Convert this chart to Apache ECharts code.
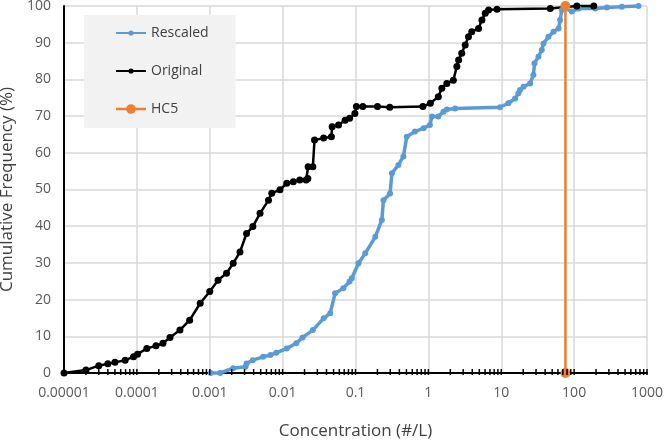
<!DOCTYPE html>
<html><head><meta charset="utf-8">
<script src="https://cdn.jsdelivr.net/npm/echarts@6/dist/echarts.min.js"></script>
<style>html,body{margin:0;padding:0;background:#fff}#c{width:664px;height:443px}</style>
</head><body><div id="c"></div>
<script>
// ---- data ----
const originalX = [0.00001,0.00002,0.00003,0.00004,0.00005,0.000069,0.00009,0.000102,0.000137,0.000183,0.000228,0.000285,0.00039,0.00053,0.00074,0.001,0.0013,0.0017,0.0021,0.0026,0.0032,0.0039,0.0049,0.0064,0.0071,0.0092,0.0114,0.014,0.0172,0.021,0.0222,0.0224,0.026,0.0274,0.0365,0.0467,0.0478,0.0585,0.072,0.083,0.098,0.103,0.126,0.2,0.295,0.84,1.065,1.37,1.53,1.79,2.2,2.46,2.6,2.87,3.2,3.55,3.94,4.88,5.43,6.03,6.7,8.75,47,109,186];
const originalY = [0,0.8,2,2.5,2.9,3.5,4.4,5.1,6.7,7.4,8.1,9.7,11.7,14.4,19,22.2,25.3,27.2,29.9,33,38,39.9,43.5,47.1,49,49.9,51.7,52.1,52.6,52.6,53,56.2,56.2,63.5,64,64.4,67.1,67.6,68.9,69.4,70.7,72.6,72.6,72.6,72.4,72.6,73.5,75.3,77.6,78.9,79.8,83.5,85.3,87.1,89.4,91.6,93,93.9,96.2,98,98.9,99.1,99.3,100,100];
const rescaledX = [0.00103,0.00139,0.0021,0.0031,0.0032,0.0039,0.0054,0.0068,0.0082,0.0114,0.0154,0.0188,0.026,0.0366,0.045,0.0525,0.068,0.083,0.089,0.11,0.136,0.187,0.23,0.242,0.298,0.316,0.388,0.454,0.505,0.655,0.86,1.05,1.12,1.37,1.61,1.79,2.33,9.6,12.5,15.5,17.2,18.1,20.2,24.9,27.6,28.6,32.4,36,38,44.5,52.2,61.2,64.2,67.8,75.5,93,115,195,282,452,765];
const rescaledY = [0,0,1.3,1.7,2.6,3.5,4.4,4.9,5.5,6.7,8.1,9.7,11.7,14.9,16.3,21.7,23.1,24.9,25.8,29.9,32.6,37.1,41.7,47.1,48.9,54.4,56.7,59,64.4,65.8,66.7,67.6,69.9,69.9,71.2,71.8,72.1,72.4,73.5,74.8,76.2,77.1,78,78.9,81.2,84.4,86.2,88,89.8,91.6,93,93.9,96.2,98.9,99.3,98.5,99.3,99.3,99.6,99.8,100];
const hc5X = [76, 76];
const hc5Y = [0, 100];
const seriesNames = ['Rescaled', 'Original', 'HC5'];
const xTickLabels = ['0.00001','0.0001','0.001','0.01','0.1','1','10','100','1000'];
const xMin = 0.00001, xMax = 1000;
const yMin = 0, yMax = 100, yStep = 10;

// axis tick positions (1..9 x 10^k)
const tickValues = [];
for (let k = -5; k < 3; k++) for (let m = 1; m <= 9; m++) tickValues.push(m * Math.pow(10, k));
tickValues.push(1000);

const zip = (xs, ys) => xs.map((x, i) => [x, ys[i]]);
const FONT = 'Open Sans';

const chart = echarts.init(document.getElementById('c'), null, {renderer: 'canvas'});
chart.setOption({
  animation: false,
  backgroundColor: '#ffffff',
  grid: {left: 64, right: 17, top: 6, bottom: 70, containLabel: false, outerBoundsMode: 'none'},
  legend: {
    orient: 'vertical', left: 84, top: 15,
    padding: [11, 27, 12, 32],
    backgroundColor: '#f2f2f2',
    itemWidth: 30, itemHeight: 14, itemGap: 24,
    textStyle: {fontFamily: FONT, fontSize: 14, color: '#404040'},
    data: [
      {name: seriesNames[0], icon: 'path://M0,0 M30,14 M0,6 L30,6 L30,8 L0,8 Z M12.4,7 A2.6,2.6 0 1 1 17.6,7 A2.6,2.6 0 1 1 12.4,7 Z'},
      {name: seriesNames[1], icon: 'path://M0,0 M30,14 M0,6 L30,6 L30,8 L0,8 Z M12.4,7 A2.6,2.6 0 1 1 17.6,7 A2.6,2.6 0 1 1 12.4,7 Z'},
      {name: seriesNames[2], icon: 'path://M0,0 M30,14 M0,5.8 L30,5.8 L30,8.2 L0,8.2 Z M10.2,7 A4.8,4.8 0 1 1 19.8,7 A4.8,4.8 0 1 1 10.2,7 Z'}
    ]
  },
  xAxis: {
    type: 'log', logBase: 10, min: xMin, max: xMax, splitNumber: 8,
    name: 'Concentration (#/L)', nameLocation: 'middle', nameGap: 50,
    nameTextStyle: {fontFamily: FONT, fontSize: 17, color: '#404040'},
    axisLine: {show: true, onZero: false, lineStyle: {color: '#000', width: 2}},
    axisTick: {show: false},
    minorTick: {show: false},
    axisLabel: {
      fontFamily: FONT, fontSize: 14, color: '#595959', margin: 13,
      formatter: v => xTickLabels[Math.round(Math.log10(v)) + 5]
    },
    splitLine: {show: true, lineStyle: {color: '#d9d9d9', width: 1.5}}
  },
  yAxis: {
    type: 'value', min: yMin, max: yMax, interval: yStep,
    name: 'Cumulative Frequency (%)', nameLocation: 'middle', nameGap: 40,
    nameTextStyle: {fontFamily: FONT, fontSize: 17, color: '#404040'},
    axisLine: {show: true, lineStyle: {color: '#000', width: 2}},
    axisTick: {show: false},
    axisLabel: {fontFamily: FONT, fontSize: 14, color: '#595959', margin: 13},
    splitLine: {show: true, lineStyle: {color: '#d9d9d9', width: 1.5}}
  },
  series: [
    {
      type: 'custom', silent: true, clip: false, z: 5,
      data: tickValues.map(v => [v, 0]),
      encode: {x: 0, y: 1},
      renderItem: function (params, api) {
        const p = api.coord([api.value(0), api.value(1)]);
        return {type: 'line', shape: {x1: p[0], y1: p[1] - 4, x2: p[0], y2: p[1] + 2},
                style: {stroke: '#000', lineWidth: 1.5}};
      }
    },
    {
      name: seriesNames[0], type: 'line', data: zip(rescaledX, rescaledY),
      color: '#5b9bd5', symbol: 'circle', symbolSize: 6, clip: false, z: 3,
      lineStyle: {width: 3.5, color: '#5b9bd5'}, itemStyle: {color: '#5b9bd5'}
    },
    {
      name: seriesNames[1], type: 'line', data: zip(originalX, originalY),
      color: '#000000', symbol: 'circle', symbolSize: 7, clip: false, z: 3,
      lineStyle: {width: 2.5, color: '#000'}, itemStyle: {color: '#000'}
    },
    {
      name: seriesNames[2], type: 'line', data: zip(hc5X, hc5Y),
      color: '#ed7d31', symbol: 'circle', symbolSize: 10, clip: false, z: 4,
      lineStyle: {width: 2.5, color: '#ed7d31'}, itemStyle: {color: '#ed7d31'}
    }
  ]
});
</script>
</body></html>
